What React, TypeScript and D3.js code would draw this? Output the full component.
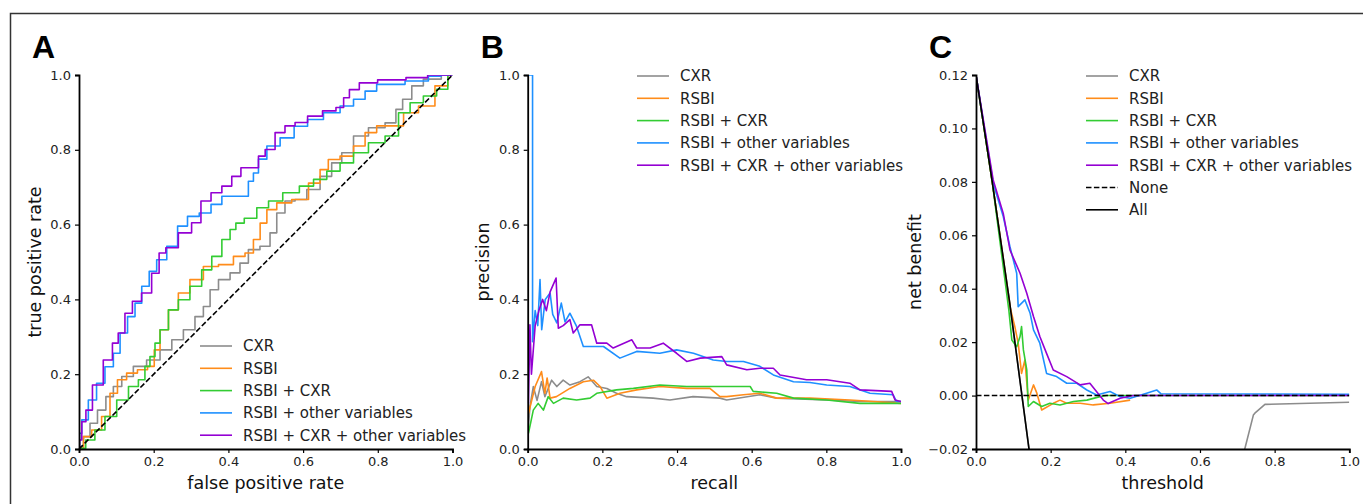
import React, { useEffect, useRef } from 'react';
import * as d3 from 'd3';

type Pt = [number, number];

// legend / series
const seriesNames = ['CXR', 'RSBI', 'RSBI + CXR', 'RSBI + other variables', 'RSBI + CXR + other variables'];
const seriesColors = ['#8c8c8c', '#ff8c1a', '#33cc33', '#1e90ff', '#9400d3'];

const unitTicks = [0, 0.2, 0.4, 0.6, 0.8, 1.0];
const benefitTicks = [-0.02, 0, 0.02, 0.04, 0.06, 0.08, 0.1, 0.12];

// A: ROC curves (false positive rate, true positive rate)
const rocCXR: Pt[] = [[0, 0], [0.003, 0.006], [0.021, 0.033], [0.038, 0.069], [0.061, 0.104], [0.083, 0.14], [0.101, 0.167], [0.128, 0.194], [0.163, 0.221], [0.199, 0.238], [0.235, 0.265], [0.262, 0.292], [0.297, 0.319], [0.324, 0.354], [0.342, 0.381], [0.36, 0.426], [0.387, 0.453], [0.422, 0.471], [0.44, 0.497], [0.467, 0.533], [0.502, 0.542], [0.521, 0.578], [0.538, 0.631], [0.565, 0.663], [0.592, 0.667], [0.628, 0.694], [0.663, 0.729], [0.69, 0.765], [0.717, 0.792], [0.753, 0.837], [0.797, 0.859], [0.842, 0.872], [0.855, 0.908], [0.878, 0.935], [0.904, 0.971], [0.94, 0.989], [1, 1]];
const rocRSBI: Pt[] = [[0, 0], [0.003, 0.002], [0.021, 0.033], [0.047, 0.051], [0.074, 0.087], [0.092, 0.149], [0.114, 0.185], [0.141, 0.203], [0.172, 0.212], [0.195, 0.221], [0.208, 0.265], [0.226, 0.319], [0.253, 0.372], [0.279, 0.417], [0.315, 0.453], [0.351, 0.488], [0.396, 0.493], [0.431, 0.515], [0.458, 0.524], [0.476, 0.56], [0.494, 0.604], [0.512, 0.64], [0.547, 0.658], [0.592, 0.667], [0.637, 0.711], [0.654, 0.747], [0.681, 0.774], [0.717, 0.783], [0.753, 0.81], [0.779, 0.846], [0.815, 0.864], [0.851, 0.864], [0.887, 0.899], [0.931, 0.917], [0.975, 0.971], [1, 1]];
const rocRSBICXR: Pt[] = [[0, 0], [0.007, 0.002], [0.029, 0.024], [0.056, 0.051], [0.083, 0.087], [0.119, 0.131], [0.146, 0.167], [0.172, 0.185], [0.181, 0.221], [0.199, 0.247], [0.208, 0.283], [0.226, 0.319], [0.253, 0.372], [0.279, 0.399], [0.315, 0.435], [0.342, 0.479], [0.369, 0.515], [0.396, 0.56], [0.413, 0.587], [0.427, 0.604], [0.458, 0.617], [0.494, 0.645], [0.521, 0.663], [0.57, 0.685], [0.61, 0.703], [0.646, 0.721], [0.681, 0.743], [0.717, 0.765], [0.753, 0.792], [0.797, 0.819], [0.842, 0.837], [0.869, 0.899], [0.904, 0.926], [0.94, 0.944], [0.975, 0.962], [1, 1]];
const rocRSBIOther: Pt[] = [[0, 0], [0.003, 0.042], [0.012, 0.078], [0.038, 0.131], [0.056, 0.176], [0.083, 0.22], [0.101, 0.256], [0.119, 0.31], [0.141, 0.354], [0.159, 0.39], [0.177, 0.435], [0.199, 0.475], [0.217, 0.506], [0.253, 0.542], [0.275, 0.596], [0.306, 0.622], [0.338, 0.631], [0.369, 0.654], [0.396, 0.676], [0.449, 0.676], [0.458, 0.716], [0.476, 0.738], [0.485, 0.775], [0.521, 0.81], [0.556, 0.832], [0.596, 0.863], [0.628, 0.881], [0.681, 0.899], [0.717, 0.917], [0.753, 0.935], [0.779, 0.957], [0.815, 0.975], [0.931, 0.984], [0.94, 0.997], [1, 1]];
const rocAll: Pt[] = [[0, 0], [0.003, 0.024], [0.012, 0.073], [0.025, 0.104], [0.047, 0.171], [0.083, 0.238], [0.096, 0.283], [0.114, 0.31], [0.132, 0.363], [0.154, 0.395], [0.181, 0.417], [0.208, 0.47], [0.221, 0.524], [0.244, 0.538], [0.288, 0.578], [0.315, 0.605], [0.338, 0.663], [0.369, 0.685], [0.396, 0.703], [0.422, 0.729], [0.445, 0.752], [0.476, 0.752], [0.485, 0.783], [0.512, 0.801], [0.538, 0.846], [0.565, 0.864], [0.592, 0.873], [0.632, 0.89], [0.672, 0.904], [0.704, 0.913], [0.713, 0.939], [0.735, 0.961], [0.766, 0.979], [0.833, 0.987], [0.918, 0.993], [0.949, 1.0], [1, 1]];
const chanceLine: Pt[] = [[0, 0], [1, 1]];

// B: precision-recall curves (recall, precision)
const prCXR: Pt[] = [[0.002, 0.06], [0.006, 0.113], [0.015, 0.167], [0.025, 0.13], [0.037, 0.18], [0.046, 0.14], [0.064, 0.184], [0.078, 0.167], [0.095, 0.184], [0.113, 0.171], [0.14, 0.18], [0.162, 0.193], [0.185, 0.167], [0.212, 0.162], [0.238, 0.149], [0.265, 0.14], [0.336, 0.136], [0.381, 0.131], [0.443, 0.14], [0.515, 0.136], [0.533, 0.131], [0.622, 0.145], [0.667, 0.136], [0.801, 0.131], [0.89, 0.127], [1, 0.127]];
const prRSBI: Pt[] = [[0.002, 0.095], [0.02, 0.167], [0.037, 0.207], [0.046, 0.149], [0.052, 0.19], [0.06, 0.136], [0.077, 0.14], [0.113, 0.162], [0.149, 0.18], [0.176, 0.184], [0.194, 0.167], [0.212, 0.136], [0.247, 0.149], [0.292, 0.158], [0.354, 0.167], [0.426, 0.162], [0.488, 0.162], [0.515, 0.14], [0.533, 0.14], [0.578, 0.145], [0.622, 0.149], [0.667, 0.136], [0.756, 0.136], [0.863, 0.131], [1, 0.122]];
const prRSBICXR: Pt[] = [[0.002, 0.042], [0.015, 0.104], [0.028, 0.122], [0.042, 0.104], [0.055, 0.14], [0.069, 0.122], [0.095, 0.136], [0.131, 0.131], [0.167, 0.136], [0.185, 0.149], [0.238, 0.158], [0.283, 0.162], [0.354, 0.171], [0.426, 0.167], [0.515, 0.167], [0.596, 0.167], [0.604, 0.154], [0.667, 0.149], [0.712, 0.136], [0.801, 0.131], [0.89, 0.122], [1, 0.122]];
const prRSBIOther: Pt[] = [[0.002, 1.0], [0.013, 1.0], [0.013, 0.287], [0.02, 0.37], [0.027, 0.33], [0.033, 0.453], [0.0375, 0.319], [0.047, 0.4], [0.06, 0.417], [0.067, 0.36], [0.078, 0.337], [0.09, 0.39], [0.1, 0.34], [0.113, 0.363], [0.13, 0.33], [0.149, 0.274], [0.203, 0.274], [0.247, 0.243], [0.292, 0.261], [0.354, 0.256], [0.399, 0.265], [0.444, 0.256], [0.497, 0.238], [0.533, 0.234], [0.578, 0.234], [0.622, 0.221], [0.658, 0.198], [0.712, 0.18], [0.756, 0.178], [0.801, 0.171], [0.863, 0.167], [0.917, 0.149], [0.979, 0.145], [0.988, 0.127], [1, 0.127]];
const prAll: Pt[] = [[0.002, 0.122], [0.006, 0.332], [0.01, 0.2], [0.02, 0.33], [0.03, 0.37], [0.04, 0.4], [0.05, 0.37], [0.06, 0.42], [0.076, 0.457], [0.082, 0.323], [0.095, 0.33], [0.113, 0.346], [0.122, 0.31], [0.14, 0.332], [0.171, 0.332], [0.185, 0.283], [0.212, 0.283], [0.229, 0.27], [0.279, 0.292], [0.292, 0.27], [0.328, 0.27], [0.363, 0.283], [0.399, 0.256], [0.426, 0.234], [0.462, 0.243], [0.52, 0.247], [0.533, 0.225], [0.587, 0.212], [0.622, 0.216], [0.658, 0.216], [0.676, 0.198], [0.747, 0.185], [0.801, 0.185], [0.863, 0.176], [0.89, 0.158], [0.975, 0.154], [0.984, 0.131], [1, 0.127]];

// C: decision curves (threshold, net benefit)
const nbCXR: Pt[] = [[0, 0.12], [0.0435, 0.08], [0.09, 0.035], [0.142, -0.02], [0.2, -0.05], [0.5, -0.06], [0.7, -0.04], [0.72, -0.02], [0.743, -0.0073], [0.747, -0.0066], [0.774, -0.0033], [1.0, -0.0025]];
const nbRSBI: Pt[] = [[0, 0.12], [0.0435, 0.08], [0.091, 0.0333], [0.104, 0.0258], [0.113, 0.0196], [0.122, 0.0083], [0.131, 0.0133], [0.14, -0.0017], [0.154, 0.004], [0.163, 0.0009], [0.176, -0.0054], [0.207, -0.0029], [0.225, -0.0017], [0.243, -0.0029], [0.279, -0.0029], [0.314, -0.0035], [0.359, -0.0029], [0.413, -0.0017]];
const nbRSBICXR: Pt[] = [[0, 0.12], [0.0435, 0.08], [0.088, 0.032], [0.096, 0.0208], [0.109, 0.0183], [0.118, 0.0221], [0.122, 0.0258], [0.127, 0.0171], [0.136, 0.0096], [0.14, -0.0041], [0.154, -0.0022], [0.176, -0.0041], [0.198, -0.0029], [0.225, -0.0035], [0.261, -0.0022], [0.297, -0.0017], [0.332, -0.0004], [0.35, 0], [1.0, 0]];
const nbRSBIOther: Pt[] = [[0, 0.12], [0.046, 0.0795], [0.073, 0.067], [0.091, 0.0557], [0.109, 0.0458], [0.113, 0.0333], [0.131, 0.0358], [0.145, 0.0308], [0.154, 0.0246], [0.171, 0.0196], [0.189, 0.0083], [0.216, 0.0071], [0.243, 0.0046], [0.27, 0.0046], [0.297, 0.0021], [0.323, 0.0002], [0.359, 0.0015], [0.386, -0.0004], [0.413, -0.001], [0.457, 0.0009], [0.484, 0.0021], [0.495, 0.0007], [1.0, 0.0005]];
const nbAll: Pt[] = [[0, 0.12], [0.046, 0.0807], [0.073, 0.0682], [0.091, 0.0545], [0.118, 0.0458], [0.136, 0.0383], [0.154, 0.0296], [0.171, 0.0221], [0.189, 0.0158], [0.207, 0.0096], [0.243, 0.0071], [0.279, 0.004], [0.305, 0.0046], [0.341, -0.0017], [0.354, -0.003], [0.386, -0.001], [0.421, 0], [1.0, 0]];
const nbTreatNone: Pt[] = [[0, 0], [1, 0]];
const nbTreatAll: Pt[] = [[0, 0.12], [0.0435, 0.08], [0.09, 0.035], [0.142, -0.02]];

const FONT = 'DejaVu Sans, sans-serif';

type Line = { pts: Pt[]; color: string; dash?: string; step?: boolean };
type Panel = {
  letter: string; left: number; right: number; xLabel: string; yLabel: string; yLabelX: number;
  yDomain: [number, number]; yTicks: number[]; yFmt: string;
  lines: Line[]; legend: { name: string; color: string; dash?: string }[]; legendX: number; legendY: number;
};

const TOP = 75;
const BOTTOM = 449;

function drawPanel(svg: d3.Selection<SVGSVGElement, unknown, null, undefined>, p: Panel, idx: number) {
  const x = d3.scaleLinear().domain([0, 1]).range([p.left, p.right]);
  const y = d3.scaleLinear().domain(p.yDomain).range([BOTTOM, TOP]);
  const g = svg.append('g');

  g.append('clipPath').attr('id', 'clip' + idx).append('rect')
    .attr('x', p.left).attr('y', TOP).attr('width', p.right - p.left).attr('height', BOTTOM - TOP);

  const plot = g.append('g').attr('clip-path', `url(#clip${idx})`);
  p.lines.forEach((l) => {
    const line = d3.line<Pt>().x((d) => x(d[0])).y((d) => y(d[1]))
      .curve(l.step ? d3.curveStep : d3.curveLinear);
    plot.append('path').attr('d', line(l.pts))
      .attr('fill', 'none').attr('stroke', l.color).attr('stroke-width', 1.6)
      .attr('stroke-dasharray', l.dash || null).attr('stroke-linejoin', 'round');
  });

  const xAxis = g.append('g').attr('transform', `translate(0,${BOTTOM})`)
    .call(d3.axisBottom(x).tickValues(unitTicks).tickFormat(d3.format('.1f')).tickSize(4).tickPadding(4));
  const yAxis = g.append('g').attr('transform', `translate(${p.left},0)`)
    .call(d3.axisLeft(y).tickValues(p.yTicks).tickFormat(d3.format(p.yFmt)).tickSize(4).tickPadding(4));
  [xAxis, yAxis].forEach((a) => {
    a.select('.domain').attr('stroke', '#000').attr('stroke-width', 1.8);
    a.selectAll('.tick line').attr('stroke', '#000').attr('stroke-width', 1.2);
    a.selectAll('.tick text').attr('font-family', FONT).attr('font-size', 13).attr('fill', '#222');
  });

  g.append('text').attr('x', (p.left + p.right) / 2).attr('y', 489)
    .attr('text-anchor', 'middle').attr('font-family', FONT).attr('font-size', 17.5).attr('fill', '#111')
    .text(p.xLabel);
  g.append('text').attr('transform', `translate(${p.yLabelX},${(TOP + BOTTOM) / 2}) rotate(-90)`)
    .attr('text-anchor', 'middle').attr('font-family', FONT).attr('font-size', 17.5).attr('fill', '#111')
    .text(p.yLabel);

  g.append('text').attr('x', p.left - 47).attr('y', 58)
    .attr('font-family', 'Liberation Sans, Arial, sans-serif').attr('font-weight', 'bold')
    .attr('font-size', 32).attr('fill', '#000').text(p.letter);

  p.legend.forEach((it, i) => {
    const ly = p.legendY + i * 22.3;
    g.append('line').attr('x1', p.legendX).attr('x2', p.legendX + 32).attr('y1', ly).attr('y2', ly)
      .attr('stroke', it.color).attr('stroke-width', 1.6).attr('stroke-dasharray', it.dash || null);
    g.append('text').attr('x', p.legendX + 43).attr('y', ly).attr('dy', '0.36em')
      .attr('font-family', FONT).attr('font-size', 15).attr('fill', '#222').text(it.name);
  });
}

export default function App() {
  const ref = useRef<SVGSVGElement>(null);

  useEffect(() => {
    const svg = d3.select(ref.current!);
    svg.selectAll('*').remove();

    // outer frame
    svg.append('path').attr('d', 'M10.5,520 L10.5,13.5 L1380,13.5')
      .attr('fill', 'none').attr('stroke', '#333').attr('stroke-width', 1.5);

    const legendBase = seriesNames.map((n, i) => ({ name: n, color: seriesColors[i] }));
    const rocs = [rocCXR, rocRSBI, rocRSBICXR, rocRSBIOther, rocAll];
    const prs = [prCXR, prRSBI, prRSBICXR, prRSBIOther, prAll];
    const nbs = [nbCXR, nbRSBI, nbRSBICXR, nbRSBIOther, nbAll];

    const panels: Panel[] = [
      {
        letter: 'A', left: 79, right: 452.5, xLabel: 'false positive rate', yLabel: 'true positive rate', yLabelX: 41,
        yDomain: [0, 1], yTicks: unitTicks, yFmt: '.1f',
        lines: [...rocs.map((pts, i) => ({ pts, color: seriesColors[i], step: true })),
          { pts: chanceLine, color: '#000', dash: '5.5,2.4' }],
        legend: legendBase, legendX: 200, legendY: 346,
      },
      {
        letter: 'B', left: 527.7, right: 901, xLabel: 'recall', yLabel: 'precision', yLabelX: 489,
        yDomain: [0, 1], yTicks: unitTicks, yFmt: '.1f',
        lines: prs.map((pts, i) => ({ pts, color: seriesColors[i] })),
        legend: legendBase, legendX: 637, legendY: 76,
      },
      {
        letter: 'C', left: 976, right: 1349.3, xLabel: 'threshold', yLabel: 'net benefit', yLabelX: 921,
        yDomain: [-0.02, 0.12], yTicks: benefitTicks, yFmt: '.2f',
        lines: [...nbs.map((pts, i) => ({ pts, color: seriesColors[i] })),
          { pts: nbTreatNone, color: '#000', dash: '5.5,2.4' },
          { pts: nbTreatAll, color: '#000' }],
        legend: [...legendBase, { name: 'None', color: '#000', dash: '5.5,2.4' }, { name: 'All', color: '#000' }],
        legendX: 1086, legendY: 76,
      },
    ];
    panels.forEach((p, i) => drawPanel(svg, p, i));
  }, []);

  return (
    <svg ref={ref} width={1363} height={504}
      style={{ position: 'absolute', left: 0, top: 0, background: '#fff' }} />
  );
}
